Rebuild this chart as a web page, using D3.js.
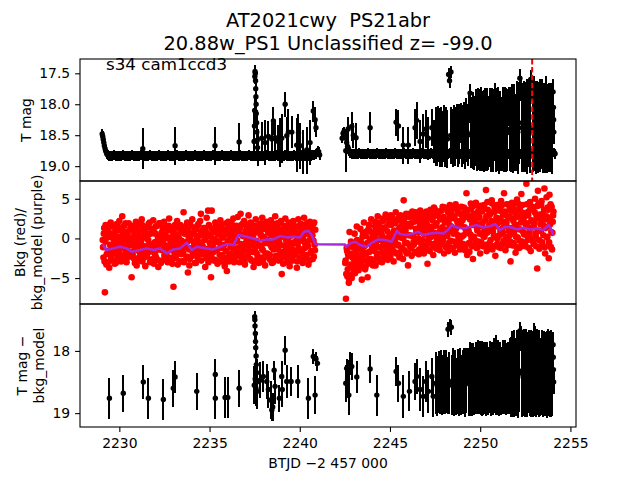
<!DOCTYPE html>
<html><head><meta charset="utf-8">
<script src="https://cdn.jsdelivr.net/npm/d3@7"></script>
<style>body{margin:0;background:#fff}svg text{font-family:"DejaVu Sans",sans-serif}</style>
</head><body><svg id="c" width="640" height="480"></svg>
<script>
// ---------------- DATA ----------------
const titleLines = ["AT2021cwy  PS21abr", "20.88w_PS1 Unclassified z= -99.0"];
const sectorLabel = "s34 cam1ccd3";
const xLabel = "BTJD \u22122 457 000";
const topYLabel = ["T mag"];
const midYLabel = ["Bkg (red)/", "bkg_model (purple)"];
const botYLabel = ["T mag \u2212", "bkg_model"];
const xTicks = [2230, 2235, 2240, 2245, 2250, 2255];
const topTicks = [17.5, 18.0, 18.5, 19.0];
const midTicks = [5, 0, -5];
const botTicks = [18, 19];
const triggerTime = 2252.88;
const baselineErr = 0.08;

// non-detection baseline in the top panel [BTJD, mag]
const baseline1 = [[2229.05,18.48],[2229.08,18.52],[2229.11,18.57],[2229.14,18.62],[2229.17,18.67],[2229.21,18.72],[2229.25,18.76],[2229.30,18.80],[2229.35,18.82],
[2229.4,18.83],[2229.5,18.84],[2229.6,18.83],[2229.7,18.82],[2229.8,18.83],[2229.9,18.84],[2230.0,18.83],[2230.1,18.83],[2230.2,18.82],[2230.3,18.83],
[2230.4,18.84],[2230.5,18.83],[2230.6,18.83],[2230.7,18.82],[2230.8,18.83],[2230.9,18.84],[2231.0,18.83],[2231.1,18.83],[2231.2,18.82],[2231.3,18.83],
[2231.4,18.84],[2231.5,18.83],[2231.6,18.83],[2231.7,18.82],[2231.8,18.83],[2231.9,18.84],[2232.0,18.83],[2232.1,18.83],[2232.2,18.82],[2232.3,18.83],
[2232.4,18.84],[2232.5,18.83],[2232.6,18.83],[2232.7,18.82],[2232.8,18.83],[2232.9,18.84],[2233.0,18.83],[2233.1,18.83],[2233.2,18.82],[2233.3,18.83],
[2233.4,18.84],[2233.5,18.83],[2233.6,18.83],[2233.7,18.82],[2233.8,18.83],[2233.9,18.84],[2234.0,18.83],[2234.1,18.83],[2234.2,18.82],[2234.3,18.83],
[2234.4,18.84],[2234.5,18.83],[2234.6,18.83],[2234.7,18.82],[2234.8,18.83],[2234.9,18.84],[2235.0,18.83],[2235.1,18.83],[2235.2,18.82],[2235.3,18.83],
[2235.4,18.84],[2235.5,18.83],[2235.6,18.83],[2235.7,18.82],[2235.8,18.83],[2235.9,18.84],[2236.0,18.83],[2236.1,18.83],[2236.2,18.82],[2236.3,18.83],
[2236.4,18.84],[2236.5,18.83],[2236.6,18.83],[2236.7,18.82],[2236.8,18.83],[2236.9,18.84],[2237.0,18.83],[2237.1,18.83],[2237.2,18.82],[2237.3,18.83],
[2237.4,18.84],[2237.5,18.83],[2237.6,18.83],[2237.7,18.82],[2237.8,18.83],[2237.9,18.84],[2238.0,18.83],[2238.1,18.83],[2238.2,18.82],[2238.3,18.83],
[2238.4,18.84],[2238.5,18.83],[2238.6,18.83],[2238.7,18.82],[2238.8,18.83],[2238.9,18.84],[2239.0,18.83],[2239.1,18.83],[2239.2,18.82],[2239.3,18.83],
[2239.4,18.84],[2239.5,18.83],[2239.6,18.83],[2239.7,18.82],[2239.8,18.83],[2239.9,18.84],[2240.0,18.83],[2240.1,18.83],[2240.2,18.82],[2240.3,18.83],
[2240.4,18.84],[2240.5,18.83],[2240.6,18.83],[2240.7,18.82],[2240.8,18.82],[2240.9,18.80],[2240.95,18.78],[2241.00,18.75],[2241.05,18.77],[2241.10,18.82]];
const baseline2 = [[2242.35,18.55],[2242.40,18.47],[2242.45,18.44],[2242.50,18.48],[2242.55,18.55],[2242.60,18.62],[2242.65,18.68],[2242.70,18.72],[2242.75,18.76],[2242.80,18.79],[2242.9,18.80],
[2243.0,18.80],[2243.1,18.81],[2243.2,18.80],[2243.3,18.79],[2243.4,18.80],[2243.5,18.81],[2243.6,18.80],[2243.7,18.80],[2243.8,18.79],[2243.9,18.80],
[2244.0,18.81],[2244.1,18.80],[2244.2,18.80],[2244.3,18.79],[2244.4,18.80],[2244.5,18.81],[2244.6,18.80],[2244.7,18.80],[2244.8,18.79],[2244.9,18.80],
[2245.0,18.81],[2245.1,18.80],[2245.2,18.80],[2245.3,18.79],[2245.4,18.80],[2245.5,18.81],[2245.6,18.80],[2245.7,18.80],[2245.8,18.79],[2245.9,18.80],
[2246.0,18.81],[2246.1,18.80],[2246.2,18.80],[2246.3,18.79],[2246.4,18.80],[2246.5,18.81],[2246.6,18.80],[2246.7,18.80],[2246.8,18.79],[2246.9,18.80],
[2247.0,18.81],[2247.1,18.80],[2247.2,18.80],[2247.3,18.79],[2247.4,18.80],[2247.5,18.81],[2247.6,18.80],[2247.7,18.80],[2247.8,18.79],[2247.9,18.80],
[2248.0,18.81],[2248.1,18.80],[2248.2,18.80],[2248.3,18.79],[2248.4,18.80],[2248.5,18.81],[2248.6,18.80],[2248.7,18.80],[2248.8,18.79],[2248.9,18.80],
[2249.0,18.81],[2249.1,18.80],[2249.2,18.80],[2249.3,18.79],[2249.4,18.80],[2249.5,18.81],[2249.6,18.80],[2249.7,18.80],[2249.8,18.79],[2249.9,18.80],
[2250.0,18.81],[2250.1,18.80],[2250.2,18.80],[2250.3,18.79],[2250.4,18.80],[2250.5,18.81],[2250.6,18.80],[2250.7,18.80],[2250.8,18.79],[2250.9,18.80],
[2251.0,18.81],[2251.1,18.80],[2251.2,18.80],[2251.3,18.79],[2251.4,18.80],[2251.5,18.81],[2251.6,18.80],[2251.7,18.80],[2251.8,18.79],[2251.9,18.80],
[2252.0,18.81],[2252.1,18.80],[2252.2,18.80],[2252.3,18.79],[2252.4,18.80],[2252.5,18.81],[2252.6,18.80],[2252.7,18.80],[2252.8,18.79],[2252.9,18.80],
[2253.0,18.81],[2253.1,18.80],[2253.2,18.80],[2253.3,18.79],[2253.4,18.80],[2253.5,18.81],[2253.6,18.80],[2253.7,18.80],[2253.8,18.79],[2253.9,18.80],
[2254.0,18.80],[2254.1,18.78],[2254.15,18.80]];

// detections in the top panel [BTJD, mag, err]
const topDetections = [
[2231.30,18.72,0.33],[2233.09,18.67,0.31],[2235.30,18.67,0.31],[2236.64,18.61,0.30],
[2237.47,18.60,0.28],[2237.49,18.35,0.22],[2237.50,18.10,0.18],[2237.51,17.55,0.12],[2237.52,17.47,0.11],[2237.54,17.50,0.11],[2237.55,17.62,0.12],[2237.56,17.75,0.13],[2237.57,17.88,0.14],[2237.58,18.00,0.16],[2237.59,18.15,0.18],[2237.61,18.30,0.20],[2237.62,18.45,0.24],[2237.64,18.58,0.27],[2237.66,18.70,0.30],
[2237.89,18.55,0.27],[2238.08,18.62,0.36],[2238.26,18.52,0.25],[2238.45,18.56,0.26],[2238.54,18.27,0.22],[2238.63,18.54,0.28],[2238.81,18.60,0.26],[2238.91,18.62,0.40],[2239.00,18.55,0.40],[2239.19,18.00,0.20],[2239.28,18.51,0.30],[2239.37,18.45,0.37],[2239.56,18.45,0.26],[2239.83,18.66,0.43],[2239.93,18.46,0.30],[2240.02,18.67,0.37],[2240.20,18.77,0.35],[2240.39,18.74,0.38],[2240.57,18.62,0.36],[2240.75,18.11,0.17],[2240.85,18.25,0.20],[2240.90,18.38,0.15],
[2242.55,18.75,0.35],[2242.68,18.40,0.20],[2242.88,18.36,0.23],[2242.97,18.50,0.20],[2243.12,18.54,0.23],[2243.90,18.38,0.25],[2245.34,18.29,0.22],[2245.47,18.35,0.25],[2245.74,18.66,0.30],[2246.02,18.66,0.30],[2246.39,18.38,0.30],[2246.48,18.26,0.30],[2246.67,18.60,0.35],[2246.85,18.48,0.32],[2247.00,18.40,0.30],[2247.13,18.55,0.35],[2247.32,18.38,0.30],[2247.45,18.60,0.35],
[2247.55,18.52,0.47],[2247.62,18.55,0.45],[2247.68,18.48,0.45],[2247.75,18.54,0.48],[2247.82,18.50,0.46],[2247.90,18.56,0.45],[2247.97,18.47,0.46],[2248.05,18.53,0.48],[2248.12,18.50,0.45],[2248.18,18.56,0.47],[2248.25,17.52,0.10],[2248.30,17.62,0.12],[2248.38,17.48,0.10],[2248.40,18.50,0.46],[2248.48,18.55,0.47],[2248.55,18.46,0.45],[2248.62,18.52,0.48],[2248.70,18.44,0.45],[2248.78,18.55,0.46],[2248.85,18.48,0.48],[2248.92,18.30,0.32],[2249.00,18.52,0.50],[2249.08,18.46,0.50],[2249.15,18.55,0.50],[2249.22,18.42,0.52],[2249.30,18.50,0.50],[2249.38,18.05,0.25],[2249.44,17.82,0.15],[2249.50,18.48,0.55],[2249.56,18.44,0.55],
[2249.62,18.42,0.62],[2249.68,18.46,0.60],[2249.74,18.38,0.62],[2249.80,18.45,0.63],[2249.86,18.40,0.66],[2249.92,18.36,0.60],[2249.98,18.44,0.64],[2250.04,18.40,0.68],[2250.10,18.46,0.62],[2250.16,18.38,0.60],[2250.22,18.43,0.66],[2250.28,18.34,0.60],[2250.34,18.45,0.63],[2250.40,18.41,0.67],[2250.46,18.47,0.60],[2250.52,18.38,0.64],[2250.58,18.44,0.66],[2250.64,18.36,0.62],[2250.70,18.46,0.63],[2250.76,18.33,0.58],[2250.82,17.85,0.20],[2250.88,18.42,0.68],[2250.94,18.46,0.62],[2251.00,18.38,0.66],[2251.06,18.45,0.67],[2251.12,18.41,0.63],[2251.18,18.48,0.60],[2251.24,18.40,0.68],[2251.30,18.45,0.64],[2251.36,18.34,0.62],[2251.42,18.42,0.68],[2251.48,18.46,0.62],[2251.54,18.05,0.30],[2251.60,17.92,0.20],[2251.66,18.40,0.68],[2251.72,18.45,0.65],[2251.78,18.36,0.68],[2251.84,18.43,0.68],[2251.90,18.38,0.70],[2251.96,18.46,0.62],[2252.02,18.33,0.70],[2252.08,18.40,0.72],[2252.14,18.30,0.66],[2252.20,17.58,0.15],[2252.26,17.75,0.20],[2252.32,18.38,0.72],[2252.38,18.45,0.65],[2252.44,18.34,0.72],[2252.50,18.42,0.68],[2252.56,18.36,0.72],[2252.60,18.00,0.40],[2252.62,18.41,0.72],[2252.68,18.31,0.70],[2252.74,18.43,0.68],[2252.80,17.60,0.15],[2252.86,17.75,0.20],[2252.92,18.38,0.72],[2252.98,18.46,0.62],[2253.00,17.90,0.35],[2253.04,18.34,0.72],[2253.10,18.42,0.70],[2253.16,18.32,0.70],[2253.22,18.45,0.66],[2253.28,18.36,0.72],[2253.30,17.95,0.35],[2253.34,18.46,0.64],[2253.40,18.34,0.70],[2253.45,18.00,0.40],[2253.46,18.41,0.70],[2253.52,18.33,0.68],[2253.58,18.43,0.68],[2253.64,17.80,0.25],[2253.70,18.39,0.72],[2253.76,18.47,0.62],[2253.82,18.36,0.70],[2253.85,17.95,0.30],[2253.88,18.42,0.68],[2253.94,18.38,0.72],[2253.98,18.10,0.40],[2254.00,18.42,0.70],[2254.04,17.80,0.20],[2254.06,18.05,0.20],[2254.07,18.25,0.20],[2254.08,18.45,0.20]];

// background flux [BTJD, value] (red), two interleaved cadence sets
const bkgPointsA = [
[2229.08,-0.2],[2229.12,-2.4],[2229.16,1.3],[2229.20,-6.8],[2229.24,1.7],[2229.28,-3.3],[2229.32,0.3],[2229.36,-1.7],[2229.40,0.9],[2229.44,-3.7],
[2229.48,-0.8],[2229.52,2.0],[2229.56,-2.1],[2229.60,0.1],[2229.64,-2.8],[2229.68,0.6],[2229.72,-1.5],[2229.76,1.4],[2229.80,-3.1],[2229.84,-0.5],
[2229.88,1.1],[2229.92,-1.9],[2229.96,-1.0],[2230.00,2.2],[2230.04,-2.6],[2230.08,0.0],[2230.12,-2.3],[2230.16,2.8],[2230.20,0.4],[2230.24,-0.3],
[2230.28,1.6],[2230.32,-1.4],[2230.36,0.8],[2230.40,-3.0],[2230.44,-0.1],[2230.48,-1.8],[2230.52,1.9],[2230.56,-0.7],[2230.60,-2.2],[2230.64,1.2],
[2230.68,-4.9],[2230.72,-0.9],[2230.76,1.5],[2230.80,-2.5],[2230.84,0.5],[2230.88,-1.2],[2230.92,2.1],[2230.96,-3.4],[2231.00,-0.4],[2231.04,0.9],
[2231.08,-1.6],[2231.12,1.8],[2231.16,-2.0],[2231.20,-0.6],[2231.24,2.4],[2231.28,-2.9],[2231.32,0.2],[2231.36,-1.3],[2231.40,1.0],[2231.44,-3.5],
[2231.48,0.7],[2231.52,-2.2],[2231.56,1.4],[2231.60,-0.2],[2231.64,-1.7],[2231.68,2.0],[2231.72,-2.7],[2231.76,-0.8],[2231.80,1.1],[2231.84,-1.1],
[2231.88,2.3],[2231.92,-3.2],[2231.96,-0.5],[2232.00,0.6],[2232.04,-2.4],[2232.08,1.6],[2232.12,-1.0],[2232.16,-3.6],[2232.20,0.3],[2232.24,1.9],
[2232.28,-1.4],[2232.32,-0.1],[2232.36,-2.8],[2232.40,1.3],[2232.44,-0.7],[2232.48,2.1],[2232.52,-2.1],[2232.56,0.4],[2232.60,-1.9],[2232.64,1.5],
[2232.68,-3.0],[2232.72,0.0],[2232.76,2.5],[2232.80,-1.5],[2232.84,-0.4],[2232.88,1.0],[2232.92,-2.6],[2232.96,0.8],[2233.00,-6.1],[2233.04,-1.2],
[2233.08,1.7],[2233.12,-2.3],[2233.16,-0.9],[2233.20,2.2],[2233.24,-3.3],[2233.28,0.5],[2233.32,-1.6],[2233.36,1.2],[2233.40,-0.3],[2233.44,-2.0],
[2233.48,0.9],[2233.52,-2.9],[2233.56,3.3],[2233.60,-1.1],[2233.64,1.4],[2233.68,-0.6],[2233.72,-2.5],[2233.76,2.0],[2233.80,-4.3],[2233.84,0.2],
[2233.88,-3.4],[2233.92,1.8],[2233.96,-0.2],[2234.00,-1.4],[2234.04,2.4],[2234.08,-2.2],[2234.12,0.6],[2234.16,-0.8],[2234.20,1.1],[2234.24,-3.1],
[2234.28,-1.0],[2234.32,1.6],[2234.36,-2.7],[2234.40,0.3],[2234.44,-1.7],[2234.48,2.2],[2234.52,3.1],[2234.56,-0.5],[2234.60,-2.0],[2234.64,0.9],
[2234.68,-1.3],[2234.72,1.3],[2234.76,-3.6],[2234.80,0.1],[2234.84,2.6],[2234.88,-2.4],[2234.92,3.5],[2234.96,1.7],[2235.00,-1.9],[2235.04,0.4],
[2235.08,-4.9],[2235.12,3.5],[2235.16,-0.9],[2235.20,1.0],[2235.24,-2.8],[2235.28,-0.1],[2235.32,2.0],[2235.36,-1.5],[2235.40,0.7],[2235.44,-3.2],
[2235.48,1.5],[2235.52,-0.4],[2235.56,-2.1],[2235.60,2.3],[2235.64,-1.2],[2235.68,0.2],[2235.72,-2.6],[2235.76,1.1],[2235.80,-0.8],[2235.84,-3.5],
[2235.88,0.8],[2235.92,1.9],[2235.96,-4.1],[2236.00,-0.3],[2236.04,2.1],[2236.08,-2.9],[2236.12,0.5],[2236.16,-1.1],[2236.20,1.4],[2236.24,-2.3],
[2236.28,-0.6],[2236.32,2.5],[2236.36,-3.0],[2236.40,0.0],[2236.44,-1.8],[2236.48,1.2],[2236.52,-0.2],[2236.56,2.7],[2236.60,-2.0],[2236.64,0.6],
[2236.68,-1.4],[2236.72,3.1],[2236.76,1.7],[2236.80,-2.5],[2236.84,0.3],[2236.88,-1.0],[2236.92,2.2],[2236.96,-3.3],[2237.00,0.9],[2237.04,-0.5],
[2237.08,1.3],[2237.12,-2.2],[2237.16,2.9],[2237.20,-1.6],[2237.24,0.1],[2237.28,2.0],[2237.32,-2.8],[2237.36,-0.7],[2237.40,1.5],[2237.44,-3.6],
[2237.48,0.7],[2237.52,-1.2],[2237.56,2.4],[2237.60,-0.3],[2237.64,-2.0],[2237.68,1.0],[2237.72,-3.1],[2237.76,1.8],[2237.80,-0.9],[2237.84,0.4],
[2237.88,-2.4],[2237.92,2.6],[2237.96,-1.5],[2238.00,0.2],[2238.04,1.4],[2238.08,-3.4],[2238.12,-0.1],[2238.16,2.1],[2238.20,-1.9],[2238.24,0.9],
[2238.28,-0.6],[2238.32,1.6],[2238.36,-2.7],[2238.40,2.3],[2238.44,-1.1],[2238.48,0.5],[2238.52,-3.0],[2238.56,1.2],[2238.60,-0.4],[2238.64,2.8],
[2238.68,-2.2],[2238.72,0.0],[2238.76,1.9],[2238.80,-1.4],[2238.84,-0.8],[2238.88,0.8],[2238.92,-2.6],[2238.96,2.2],[2239.00,-4.5],[2239.04,1.1],
[2239.08,-3.2],[2239.12,0.6],[2239.16,-1.7],[2239.20,2.5],[2239.24,-0.2],[2239.28,1.4],[2239.32,-2.3],[2239.36,-1.0],[2239.40,2.0],[2239.44,-3.5],
[2239.48,0.3],[2239.52,1.7],[2239.56,-1.3],[2239.60,-2.8],[2239.64,2.2],[2239.68,-0.5],[2239.72,0.9],[2239.76,-2.0],[2239.80,1.5],[2239.84,-3.7],
[2239.88,-0.7],[2239.92,2.4],[2239.96,-1.6],[2240.00,0.4],[2240.04,-2.5],[2240.08,1.8],[2240.12,-0.1],[2240.16,-3.1],[2240.20,1.0],[2240.24,2.6],
[2240.28,-1.2],[2240.32,0.7],[2240.36,-2.1],[2240.40,1.9],[2240.44,-0.4],[2240.48,-3.3],[2240.52,1.3],[2240.56,2.1],[2240.60,-1.8],[2240.64,0.1],
[2240.68,1.6],[2240.72,-2.6],[2240.76,-0.3],[2240.80,2.0],[2240.84,-1.5],
[2242.52,-3.1],[2242.56,-7.6],[2242.60,-1.2],[2242.64,-4.8],[2242.68,-2.0],[2242.72,-5.6],[2242.76,0.8],[2242.80,-3.6],[2242.84,-0.4],[2242.88,-5.0],
[2242.92,-2.4],[2242.96,-1.1],[2243.00,-4.2],[2243.04,0.6],[2243.08,-3.0],[2243.12,-1.7],[2243.16,1.5],[2243.20,-3.8],[2243.24,-0.6],[2243.28,-2.2],
[2243.32,-1.4],[2243.36,1.2],[2243.40,-3.3],[2243.44,-5.2],[2243.48,0.2],[2243.52,-2.1],[2243.56,2.0],[2243.60,-0.9],[2243.64,-3.6],[2243.68,-1.8],
[2243.72,0.9],[2243.76,-4.9],[2243.80,-2.6],[2243.84,1.7],[2243.88,-0.3],[2243.92,-3.0],[2243.96,2.4],[2244.00,-1.3],[2244.04,0.4],[2244.08,-2.8],
[2244.12,-0.8],[2244.16,2.1],[2244.20,-3.4],[2244.24,1.0],[2244.28,-1.9],[2244.32,2.8],[2244.36,-0.2],[2244.40,-2.5],[2244.44,1.5],[2244.48,-1.1],
[2244.52,0.6],[2244.56,-3.0],[2244.60,2.5],[2244.64,-0.7],[2244.68,1.3],[2244.72,-2.2],[2244.76,3.0],[2244.80,-1.5],[2244.84,0.0],[2244.88,-2.7],
[2244.92,1.8],[2244.96,-0.5],[2245.00,-2.0],[2245.04,2.9],[2245.08,0.3],[2245.12,-1.2],[2245.16,2.2],[2245.20,-2.9],[2245.24,1.0],[2245.28,-0.3],
[2245.32,3.3],[2245.36,-1.8],[2245.40,0.7],[2245.44,-0.9],[2245.48,2.6],[2245.52,-2.4],[2245.56,1.4],[2245.60,0.1],[2245.64,-1.4],[2245.68,2.0],
[2245.72,-2.6],[2245.76,4.8],[2245.80,0.9],[2245.84,-0.6],[2245.88,2.8],[2245.92,-1.9],[2245.96,1.6],[2246.00,-3.4],[2246.04,0.4],[2246.08,3.1],
[2246.12,-1.0],[2246.16,1.9],[2246.20,-2.2],[2246.24,3.4],[2246.28,0.2],[2246.32,-0.8],[2246.36,2.4],[2246.40,-1.7],[2246.44,1.2],[2246.48,3.0],
[2246.52,-0.4],[2246.56,2.2],[2246.60,-2.0],[2246.64,0.8],[2246.68,3.5],[2246.72,-1.3],[2246.76,1.5],[2246.80,-0.2],[2246.84,2.7],[2246.88,-1.9],
[2246.92,0.5],[2246.96,3.2],[2247.00,-1.1],[2247.04,1.8],[2247.08,-3.2],[2247.12,2.5],[2247.16,0.0],[2247.20,-1.6],[2247.24,3.6],[2247.28,1.0],
[2247.32,-0.7],[2247.36,2.3],[2247.40,-2.1],[2247.44,3.9],[2247.48,0.7],[2247.52,1.6],[2247.56,-1.3],[2247.60,2.9],[2247.64,-0.2],[2247.68,0.4],
[2247.72,3.4],[2247.76,-1.5],[2247.80,1.2],[2247.84,2.6],[2247.88,-0.5],[2247.92,4.0],[2247.96,0.3],[2248.00,-1.9],[2248.04,2.0],[2248.08,1.1],
[2248.12,-0.9],[2248.16,3.7],[2248.20,0.8],[2248.24,-1.6],[2248.28,2.4],[2248.32,4.2],[2248.36,-0.3],[2248.40,1.5],[2248.44,3.0],[2248.48,-1.2],
[2248.52,0.6],[2248.56,2.8],[2248.60,-1.8],[2248.64,4.3],[2248.68,1.3],[2248.72,-0.6],[2248.76,3.5],[2248.80,0.1],[2248.84,2.2],[2248.88,-1.4],
[2248.92,1.9],[2248.96,4.0],[2249.00,-0.9],[2249.04,2.6],[2249.08,0.4],[2249.12,3.3],[2249.16,-1.5],[2249.20,1.1],[2249.24,5.7],[2249.28,-2.1],
[2249.32,3.6],[2249.36,0.8],[2249.40,-1.7],[2249.44,2.4],[2249.48,4.4],[2249.52,0.0],[2249.56,1.7],[2249.60,-2.6],[2249.64,3.1],[2249.68,-0.8],
[2249.72,2.0],[2249.76,4.5],[2249.80,-1.2],[2249.84,1.0],[2249.88,3.4],[2249.92,-0.4],[2249.96,2.7],[2250.00,-1.9],[2250.04,4.1],[2250.08,0.6],
[2250.12,1.5],[2250.16,-1.0],[2250.20,3.8],[2250.24,0.2],[2250.28,2.3],[2250.32,6.1],[2250.36,-1.6],[2250.40,4.6],[2250.44,0.9],[2250.48,2.9],
[2250.52,-0.6],[2250.56,3.3],[2250.60,1.2],[2250.64,4.8],[2250.68,-1.4],[2250.72,2.0],[2250.76,0.4],[2250.80,3.9],[2250.84,-2.2],[2250.88,1.6],
[2250.92,4.2],[2250.96,0.0],[2251.00,2.5],[2251.04,-1.1],[2251.08,3.5],[2251.12,1.0],[2251.16,4.7],[2251.20,-0.7],[2251.24,2.1],[2251.28,0.6],
[2251.32,5.7],[2251.36,3.0],[2251.40,-1.5],[2251.44,1.8],[2251.48,4.3],[2251.52,-0.3],[2251.56,2.6],[2251.60,0.3],[2251.64,3.7],[2251.68,-2.9],
[2251.72,1.3],[2251.76,4.5],[2251.80,-0.9],[2251.84,2.2],[2251.88,0.8],[2251.92,3.6],[2251.96,-1.8],[2252.00,1.7],[2252.04,4.9],[2252.08,0.1],
[2252.12,2.8],[2252.16,-1.2],[2252.20,3.9],[2252.24,1.1],[2252.28,5.6],[2252.32,-0.4],[2252.36,2.4],[2252.40,3.0],[2252.44,0.5],[2252.48,3.2],
[2252.52,-1.0],[2252.56,6.9],[2252.60,1.9],[2252.64,-0.2],[2252.68,3.4],[2252.72,0.7],[2252.76,4.6],[2252.80,-1.6],[2252.84,2.3],[2252.88,1.4],
[2252.92,3.8],[2252.96,-0.7],[2253.00,2.0],[2253.04,5.0],[2253.08,0.3],[2253.12,2.9],[2253.16,-3.8],[2253.20,6.0],[2253.24,4.4],[2253.28,-1.3],
[2253.32,2.6],[2253.36,0.9],[2253.40,4.7],[2253.44,-0.5],[2253.48,3.1],[2253.52,1.6],[2253.56,6.3],[2253.60,-1.9],[2253.64,2.4],[2253.68,5.2],
[2253.72,0.2],[2253.76,3.6],[2253.80,-2.5],[2253.84,5.5],[2253.88,1.8],[2253.92,-1.1],[2253.96,4.0],[2254.00,0.7],[2254.04,2.9]];
const bkgPointsB = [
[2229.10,-1.1],[2229.14,0.6],[2229.18,-2.9],[2229.22,-0.4],[2229.26,1.2],[2229.30,-2.0],[2229.34,0.1],[2229.38,-3.0],[2229.42,1.7],[2229.46,-1.5],
[2229.50,0.4],[2229.54,-2.6],[2229.58,-0.9],[2229.62,1.5],[2229.66,-1.9],[2229.70,-0.2],[2229.74,-3.2],[2229.78,0.9],[2229.82,-1.2],[2229.86,1.8],
[2229.90,-2.4],[2229.94,0.2],[2229.98,-1.6],[2230.02,1.0],[2230.06,-0.6],[2230.10,-2.9],[2230.14,1.4],[2230.18,-1.0],[2230.22,0.7],[2230.26,-2.1],
[2230.30,-0.3],[2230.34,1.9],[2230.38,-2.7],[2230.42,-1.3],[2230.46,0.5],[2230.50,-0.8],[2230.54,-2.3],[2230.58,1.1],[2230.62,-1.7],[2230.66,0.0],
[2230.70,1.6],[2230.74,-2.0],[2230.78,-0.5],[2230.82,0.8],[2230.86,-3.1],[2230.90,-1.4],[2230.94,1.3],[2230.98,-0.1],[2231.02,-2.5],[2231.06,0.4],
[2231.10,-0.9],[2231.14,1.0],[2231.18,-2.8],[2231.22,-0.2],[2231.26,1.7],[2231.30,-1.8],[2231.34,0.3],[2231.38,-2.4],[2231.42,-1.0],[2231.46,1.4],
[2231.50,-2.2],[2231.54,0.0],[2231.58,-1.3],[2231.62,1.8],[2231.66,-0.7],[2231.70,-3.0],[2231.74,0.6],[2231.78,-1.6],[2231.82,1.2],[2231.86,-2.6],
[2231.90,0.9],[2231.94,-1.1],[2231.98,-2.0],[2232.02,1.5],[2232.06,-0.4],[2232.10,-2.7],[2232.14,0.2],[2232.18,-1.4],[2232.22,1.9],[2232.26,-0.6],
[2232.30,-3.1],[2232.34,0.7],[2232.38,-1.5],[2232.42,-0.3],[2232.46,1.3],[2232.50,-2.2],[2232.54,0.4],[2232.58,-0.9],[2232.62,-2.8],[2232.66,1.0],
[2232.70,-1.2],[2232.74,1.6],[2232.78,-2.4],[2232.82,0.1],[2232.86,-0.8],[2232.90,1.2],[2232.94,-3.2],[2232.98,-0.1],[2233.02,0.8],[2233.06,-1.9],
[2233.10,0.5],[2233.14,-2.5],[2233.18,-0.6],[2233.22,1.4],[2233.26,-1.7],[2233.30,0.0],[2233.34,-2.9],[2233.38,1.7],[2233.42,-1.1],[2233.46,-0.3],
[2233.50,1.1],[2233.54,-1.8],[2233.58,-3.0],[2233.62,0.6],[2233.66,-0.9],[2233.70,1.6],[2233.74,-2.3],[2233.78,-0.4],[2233.82,0.9],[2233.86,-1.4],
[2233.90,-2.6],[2233.94,0.3],[2233.98,1.5],[2234.02,-1.2],[2234.06,-2.0],[2234.10,0.7],[2234.14,-0.5],[2234.18,-3.1],[2234.22,1.2],[2234.26,-1.6],
[2234.30,0.0],[2234.34,-2.2],[2234.38,1.8],[2234.42,-0.7],[2234.46,-1.5],[2234.50,0.9],[2234.54,-2.8],[2234.58,0.4],[2234.62,-1.0],[2234.66,1.3],
[2234.70,-1.9],[2234.74,-0.2],[2234.78,1.0],[2234.82,-2.5],[2234.86,0.6],[2234.90,-1.3],[2234.94,-3.0],[2234.98,1.6],[2235.02,-0.6],[2235.06,0.2],
[2235.10,-2.3],[2235.14,1.2],[2235.18,-0.8],[2235.22,-1.7],[2235.26,0.8],[2235.30,-2.7],[2235.34,1.5],[2235.38,-0.3],[2235.42,-1.4],[2235.46,0.5],
[2235.50,-0.5],[2235.54,-2.9],[2235.58,0.9],[2235.62,-1.1],[2235.66,1.7],[2235.70,-2.1],[2235.74,0.1],[2235.78,-0.9],[2235.82,-3.1],[2235.86,1.1],
[2235.90,-1.6],[2235.94,0.6],[2235.98,-2.4],[2236.02,1.4],[2236.06,-0.2],[2236.10,-1.9],[2236.14,0.8],[2236.18,-2.7],[2236.22,1.9],[2236.26,-1.0],
[2236.30,0.3],[2236.34,-1.4],[2236.38,-2.6],[2236.42,1.0],[2236.46,-0.4],[2236.50,1.6],[2236.54,-2.2],[2236.58,-1.2],[2236.62,0.6],[2236.66,-3.0],
[2236.70,1.3],[2236.74,-0.7],[2236.78,-2.0],[2236.82,0.5],[2236.86,1.9],[2236.90,-1.5],[2236.94,-2.9],[2236.98,0.2],[2237.02,-0.6],[2237.06,1.5],
[2237.10,-2.2],[2237.14,0.8],[2237.18,-1.0],[2237.22,1.8],[2237.26,-2.6],[2237.30,-0.1],[2237.34,1.1],[2237.38,-1.7],[2237.42,0.4],[2237.46,-2.9],
[2237.50,1.6],[2237.54,-0.4],[2237.58,-1.8],[2237.62,0.9],[2237.66,-2.4],[2237.70,1.4],[2237.74,-0.9],[2237.78,-3.0],[2237.82,0.6],[2237.86,1.9],
[2237.90,-1.3],[2237.94,0.1],[2237.98,-2.7],[2238.02,1.2],[2238.06,-0.6],[2238.10,-1.9],[2238.14,1.7],[2238.18,-0.2],[2238.22,-2.3],[2238.26,0.7],
[2238.30,1.5],[2238.34,-2.1],[2238.38,-0.8],[2238.42,0.4],[2238.46,-3.1],[2238.50,1.0],[2238.54,-1.4],[2238.58,1.8],[2238.62,-0.3],[2238.66,-2.5],
[2238.70,0.6],[2238.74,-1.1],[2238.78,1.3],[2238.82,-2.8],[2238.86,-0.5],[2238.90,1.9],[2238.94,-1.7],[2238.98,0.2],[2239.02,-2.2],[2239.06,1.0],
[2239.10,-0.9],[2239.14,1.6],[2239.18,-2.4],[2239.22,0.3],[2239.26,-1.3],[2239.30,-3.0],[2239.34,1.2],[2239.38,-0.4],[2239.42,0.8],[2239.46,-1.9],
[2239.50,1.4],[2239.54,-2.6],[2239.58,-0.7],[2239.62,1.9],[2239.66,-1.5],[2239.70,0.5],[2239.74,-2.1],[2239.78,1.1],[2239.82,-0.2],[2239.86,-2.9],
[2239.90,0.9],[2239.94,-1.2],[2239.98,1.6],[2240.02,-2.4],[2240.06,-0.3],[2240.10,1.2],[2240.14,-1.8],[2240.18,0.1],[2240.22,-2.7],[2240.26,1.7],
[2240.30,-0.6],[2240.34,1.5],[2240.38,-2.2],[2240.42,0.6],[2240.46,-1.0],[2240.50,1.9],[2240.54,-2.8],[2240.58,-0.1],[2240.62,1.0],[2240.66,-1.6],
[2240.70,0.4],[2240.74,1.8],[2240.78,-2.3],[2240.82,-0.8],[2240.86,1.1],
[2242.54,-2.8],[2242.58,-4.5],[2242.62,-1.6],[2242.66,-3.9],[2242.70,-2.2],[2242.74,-5.2],[2242.78,-1.0],[2242.82,-3.3],[2242.86,-4.6],[2242.90,-1.9],
[2242.94,-3.5],[2242.98,-0.8],[2243.02,-2.7],[2243.06,-4.4],[2243.10,-1.4],[2243.14,-3.1],[2243.18,-0.2],[2243.22,-2.3],[2243.26,-4.0],[2243.30,-1.2],
[2243.34,-2.6],[2243.38,-0.4],[2243.42,-3.5],[2243.46,-1.5],[2243.50,0.7],[2243.54,-2.8],[2243.58,-1.0],[2243.62,-3.9],[2243.66,0.3],[2243.70,-1.9],
[2243.74,-0.6],[2243.78,-3.2],[2243.82,1.2],[2243.86,-1.7],[2243.90,-0.1],[2243.94,-2.6],[2243.98,0.8],[2244.02,-1.2],[2244.06,-3.4],[2244.10,0.2],
[2244.14,-1.6],[2244.18,1.5],[2244.22,-0.5],[2244.26,-2.4],[2244.30,0.6],[2244.34,-1.1],[2244.38,2.0],[2244.42,-2.9],[2244.46,-0.2],[2244.50,1.1],
[2244.54,-1.8],[2244.58,0.3],[2244.62,2.2],[2244.66,-0.9],[2244.70,-2.5],[2244.74,1.4],[2244.78,-0.4],[2244.82,-1.5],[2244.86,0.9],[2244.90,2.5],
[2244.94,-1.1],[2244.98,0.5],[2245.02,-2.3],[2245.06,1.7],[2245.10,-0.2],[2245.14,2.6],[2245.18,-1.6],[2245.22,0.9],[2245.26,-0.7],[2245.30,1.9],
[2245.34,-1.9],[2245.38,0.2],[2245.42,2.3],[2245.46,-0.8],[2245.50,1.2],[2245.54,-2.1],[2245.58,2.9],[2245.62,0.6],[2245.66,-1.2],[2245.70,1.6],
[2245.74,0.0],[2245.78,2.4],[2245.82,-1.5],[2245.86,1.0],[2245.90,3.1],[2245.94,-0.6],[2245.98,1.8],[2246.02,-1.8],[2246.06,2.7],[2246.10,0.4],
[2246.14,1.5],[2246.18,-1.2],[2246.22,2.9],[2246.26,0.3],[2246.30,-0.5],[2246.34,2.1],[2246.38,-1.8],[2246.42,3.3],[2246.46,0.8],[2246.50,-0.1],
[2246.54,2.5],[2246.58,0.0],[2246.62,-1.4],[2246.66,1.7],[2246.70,3.0],[2246.74,-0.7],[2246.78,1.1],[2246.82,2.3],[2246.86,-1.6],[2246.90,0.6],
[2246.94,2.0],[2246.98,-0.9],[2247.02,3.4],[2247.06,1.2],[2247.10,-0.3],[2247.14,2.6],[2247.18,-1.5],[2247.22,0.9],[2247.26,3.1],[2247.30,0.2],
[2247.34,1.5],[2247.38,-1.0],[2247.42,2.8],[2247.46,0.4],[2247.50,3.6],[2247.54,-0.6],[2247.58,1.9],[2247.62,0.0],[2247.66,3.2],[2247.70,-1.3],
[2247.74,0.8],[2247.78,2.4],[2247.82,-0.8],[2247.86,3.5],[2247.90,1.4],[2247.94,-0.2],[2247.98,2.7],[2248.02,0.5],[2248.06,3.9],[2248.10,-1.1],
[2248.14,2.2],[2248.18,0.3],[2248.22,3.3],[2248.26,-0.6],[2248.30,1.7],[2248.34,2.9],[2248.38,-1.3],[2248.42,0.9],[2248.46,3.7],[2248.50,1.2],
[2248.54,-0.4],[2248.58,2.5],[2248.62,1.0],[2248.66,3.8],[2248.70,-0.9],[2248.74,2.0],[2248.78,0.4],[2248.82,3.2],[2248.86,-0.2],[2248.90,1.6],
[2248.94,3.0],[2248.98,0.2],[2249.02,2.3],[2249.06,-0.7],[2249.10,3.9],[2249.14,1.4],[2249.18,-1.2],[2249.22,2.7],[2249.26,0.7],[2249.30,3.5],
[2249.34,1.1],[2249.38,-0.6],[2249.42,2.8],[2249.46,0.5],[2249.50,3.7],[2249.54,-1.0],[2249.58,1.9],[2249.62,4.1],[2249.66,0.2],[2249.70,2.4],
[2249.74,-0.3],[2249.78,3.1],[2249.82,1.3],[2249.86,-1.1],[2249.90,2.6],[2249.94,4.0],[2249.98,0.6],[2250.02,1.8],[2250.06,-0.5],[2250.10,3.4],
[2250.14,2.0],[2250.18,0.3],[2250.22,4.2],[2250.26,1.1],[2250.30,-0.8],[2250.34,2.8],[2250.38,0.7],[2250.42,3.6],[2250.46,-1.3],[2250.50,1.7],
[2250.54,3.0],[2250.58,-0.2],[2250.62,2.2],[2250.66,4.4],[2250.70,0.9],[2250.74,-1.0],[2250.78,3.3],[2250.82,1.5],[2250.86,0.1],[2250.90,2.6],
[2250.94,-0.7],[2250.98,1.9],[2251.02,3.7],[2251.06,0.4],[2251.10,2.4],[2251.14,-1.2],[2251.18,4.1],[2251.22,1.2],[2251.26,2.9],[2251.30,-0.3],
[2251.34,1.6],[2251.38,3.4],[2251.42,0.0],[2251.46,2.1],[2251.50,-0.9],[2251.54,4.3],[2251.58,1.0],[2251.62,2.8],[2251.66,-0.4],[2251.70,3.5],
[2251.74,0.6],[2251.78,2.5],[2251.82,4.0],[2251.86,-0.6],[2251.90,1.5],[2251.94,3.2],[2251.98,0.2],[2252.02,-1.1],[2252.06,2.7],[2252.10,4.4],
[2252.14,1.2],[2252.18,-0.3],[2252.22,3.5],[2252.26,2.0],[2252.30,-1.0],[2252.34,4.2],[2252.38,0.8],[2252.42,2.6],[2252.46,-0.6],[2252.50,3.1],
[2252.54,1.7],[2252.58,4.3],[2252.62,0.3],[2252.66,2.9],[2252.70,-1.2],[2252.74,1.1],[2252.78,3.7],[2252.82,0.0],[2252.86,2.2],[2252.90,4.0],
[2252.94,-0.4],[2252.98,1.4],[2253.02,3.3],[2253.06,0.6],[2253.10,-1.0],[2253.14,2.5],[2253.18,4.1],[2253.22,1.0],[2253.26,-0.2],[2253.30,3.0],
[2253.34,1.8],[2253.38,4.2],[2253.42,-0.7],[2253.46,2.3],[2253.50,0.4],[2253.54,3.6],[2253.58,-1.1],[2253.62,1.3],[2253.66,2.8],[2253.70,0.1],
[2253.74,3.9],[2253.78,1.5],[2253.82,-0.5],[2253.86,2.6],[2253.90,4.3],[2253.94,0.8],[2253.98,-1.4],[2254.02,2.1],[2254.06,3.4]];
const bkgModel = [
[2229.08,-0.76],[2229.30,-1.47],[2229.67,-1.26],[2230.04,-1.06],[2230.41,-1.26],[2230.69,-1.69],[2231.15,-1.47],[2231.52,-1.26],[2231.88,-1.47],[2232.26,-1.26],[2232.63,-1.89],[2232.99,-1.39],[2233.36,-1.26],[2233.74,-0.55],[2234.01,-1.47],[2234.29,-1.06],[2234.84,-1.26],[2235.21,-1.39],[2235.58,-1.06],[2235.95,-0.72],[2236.32,-0.84],[2236.60,0.42],[2237.06,0.20],[2237.43,0.00],[2237.80,-0.30],[2238.17,-0.13],[2238.54,-0.13],[2238.91,0.29],[2239.28,0.13],[2239.65,0.20],[2240.02,0.13],[2240.24,0.83],[2240.48,0.96],[2240.66,0.42],[2240.85,-0.63],[2240.92,-0.72],
[2242.50,-0.76],[2242.57,-1.06],[2242.79,-0.63],[2243.07,-0.42],[2243.34,-0.84],[2243.71,-1.06],[2243.99,-0.55],[2244.36,-0.13],[2244.73,-0.21],[2245.10,-0.42],[2245.38,0.96],[2245.56,0.54],[2245.93,0.42],[2246.30,0.63],[2246.57,0.83],[2246.85,0.42],[2247.22,0.63],[2247.59,0.71],[2247.96,0.63],[2248.24,1.13],[2248.43,1.68],[2248.70,1.38],[2249.07,1.26],[2249.44,1.47],[2249.81,1.68],[2250.18,1.38],[2250.55,1.55],[2250.83,1.80],[2251.10,1.05],[2251.38,1.47],[2251.75,1.38],[2252.03,1.13],[2252.39,1.34],[2252.77,1.13],[2253.14,1.26],[2253.50,1.05],[2253.78,1.68],[2253.91,1.26],[2254.06,0.42]];

// T mag - bkg_model [BTJD, mag, err]
const botDetections = [
[2229.45,18.76,0.33],[2230.22,18.68,0.30],[2231.33,18.50,0.27],[2231.61,18.76,0.33],[2232.44,18.78,0.33],[2232.99,18.60,0.30],[2233.09,18.42,0.25],[2234.29,18.65,0.30],[2235.32,18.38,0.25],[2235.32,18.76,0.33],[2235.86,18.75,0.33],[2236.01,18.75,0.33],[2236.64,18.60,0.30],
[2237.48,18.55,0.30],[2237.50,17.45,0.09],[2237.51,17.50,0.09],[2237.52,17.60,0.10],[2237.53,18.45,0.25],[2237.54,17.72,0.11],[2237.55,17.85,0.12],[2237.56,17.95,0.14],[2237.57,18.60,0.28],[2237.58,18.08,0.16],[2237.59,18.22,0.18],[2237.61,18.35,0.22],[2237.62,18.50,0.25],[2237.64,18.65,0.28],
[2237.80,18.47,0.29],[2237.98,18.41,0.25],[2238.17,18.49,0.28],[2238.26,18.62,0.30],[2238.39,18.79,0.30],[2238.45,18.95,0.18],[2238.50,18.90,0.22],[2238.58,18.31,0.15],[2238.63,18.57,0.28],[2238.87,18.76,0.22],[2239.00,18.41,0.25],[2239.03,18.62,0.28],[2239.19,17.99,0.23],[2239.28,18.49,0.27],[2239.52,18.49,0.23],[2239.89,18.49,0.27],[2240.48,18.76,0.33],[2240.75,18.09,0.12],[2240.85,18.71,0.30],[2240.90,18.13,0.12],[2240.98,18.20,0.12],
[2242.55,18.52,0.30],[2242.60,18.28,0.15],[2242.65,18.45,0.30],[2242.72,18.71,0.32],[2242.80,18.20,0.18],[2242.88,18.25,0.21],[2243.16,18.42,0.25],[2243.90,18.29,0.22],[2244.27,18.71,0.33],[2245.34,18.33,0.23],[2245.47,18.52,0.30],[2245.74,18.73,0.35],[2246.08,18.65,0.32],[2246.39,18.49,0.30],[2246.48,18.41,0.28],[2246.67,18.62,0.35],[2246.85,18.73,0.33],[2247.00,18.49,0.33],[2247.13,18.65,0.35],[2247.32,18.41,0.30],[2247.40,18.73,0.33],
[2247.55,18.52,0.50],[2247.62,18.56,0.48],[2247.70,18.50,0.50],[2247.77,18.54,0.47],[2247.84,18.48,0.50],[2247.91,18.55,0.48],[2247.98,18.50,0.52],[2248.05,18.54,0.48],[2248.12,18.49,0.50],[2248.19,18.56,0.46],[2248.22,17.65,0.12],[2248.26,18.52,0.50],[2248.30,17.58,0.10],[2248.40,17.62,0.12],[2248.44,18.55,0.48],[2248.47,18.48,0.52],[2248.54,18.54,0.50],[2248.61,18.50,0.52],[2248.68,18.57,0.46],[2248.75,18.49,0.52],[2248.82,18.55,0.50],[2248.89,18.47,0.52],[2248.96,18.55,0.48],[2249.03,18.50,0.52],[2249.10,18.45,0.50],[2249.17,18.54,0.52],[2249.24,18.48,0.52],[2249.31,18.25,0.30],[2249.38,18.52,0.52],[2249.45,18.05,0.20],[2249.50,18.46,0.58],[2249.56,18.52,0.52],
[2249.62,18.45,0.57],[2249.68,18.48,0.55],[2249.74,18.43,0.58],[2249.80,18.47,0.55],[2249.86,18.42,0.60],[2249.92,18.46,0.56],[2249.98,18.42,0.58],[2250.04,18.47,0.56],[2250.10,18.44,0.60],[2250.16,18.48,0.55],[2250.22,18.44,0.58],[2250.28,18.40,0.55],[2250.34,18.46,0.58],[2250.40,18.43,0.57],[2250.46,18.48,0.55],[2250.52,18.42,0.58],[2250.58,18.46,0.58],[2250.64,18.41,0.56],[2250.70,18.47,0.56],[2250.76,18.40,0.60],[2250.82,18.30,0.50],[2250.85,17.95,0.20],[2250.88,18.45,0.58],[2250.94,18.48,0.55],[2251.00,18.42,0.60],[2251.06,18.46,0.58],[2251.12,18.43,0.57],[2251.18,18.48,0.55],[2251.24,18.42,0.60],[2251.30,18.46,0.56],[2251.36,18.40,0.58],[2251.42,18.45,0.58],[2251.48,18.47,0.55],[2251.54,18.42,0.56],[2251.60,18.44,0.58],[2251.66,18.40,0.60],[2251.72,18.42,0.65],
[2251.78,18.36,0.68],[2251.84,18.40,0.66],[2251.90,18.36,0.70],[2251.96,18.42,0.62],[2252.02,18.34,0.68],[2252.08,18.38,0.70],[2252.14,18.32,0.66],[2252.20,17.68,0.15],[2252.24,17.80,0.20],[2252.32,18.36,0.70],[2252.38,18.42,0.62],[2252.44,18.34,0.70],[2252.50,18.40,0.66],[2252.56,18.35,0.70],[2252.62,18.38,0.68],[2252.68,18.33,0.66],[2252.74,18.40,0.65],[2252.80,18.36,0.70],[2252.86,18.34,0.66],[2252.92,18.38,0.68],[2252.98,18.42,0.62],[2253.00,17.75,0.20],[2253.04,18.35,0.70],[2253.05,17.85,0.25],[2253.10,18.40,0.66],[2253.16,18.33,0.68],[2253.22,18.41,0.62],[2253.28,18.36,0.70],[2253.34,18.42,0.62],[2253.40,18.35,0.68],[2253.46,18.39,0.68],[2253.52,18.34,0.66],[2253.58,18.40,0.64],[2253.64,18.36,0.66],[2253.70,18.38,0.70],[2253.75,17.85,0.20],[2253.76,18.44,0.60],[2253.82,18.36,0.68],[2253.88,18.40,0.66],[2253.94,18.37,0.70],[2254.00,18.41,0.64],[2254.04,17.90,0.20],[2254.05,18.10,0.20],[2254.06,18.30,0.20],[2254.07,18.50,0.20]];

// ---------------- DRAWING ----------------
const svg = d3.select('#c');
const L = 80, R = 576;
const P = {top:[59,181], mid:[181,304], bot:[304,427]};
const FS = 13.9;
const x = d3.scaleLinear().domain([2227.82, 2255.31]).range([L, R]);
const yTop = d3.scaleLinear().domain([17.269, 19.24]).range([P.top[0], P.top[1]]);
const yMid = d3.scaleLinear().domain([-8.27, 7.24]).range([P.mid[1], P.mid[0]]);
const yBot = d3.scaleLinear().domain([17.246, 19.223]).range([P.bot[0], P.bot[1]]);

svg.append('rect').attr('width',640).attr('height',480).attr('fill','#fff');
const defs = svg.append('defs');
Object.entries(P).forEach(([k,[a,b]]) => {
  defs.append('clipPath').attr('id','clip-'+k).append('rect')
    .attr('x',L).attr('y',a).attr('width',R-L).attr('height',b-a);
});

function errSeries(g, data, y, r, color) {
  g.append('g').attr('shape-rendering','crispEdges').selectAll('line').data(data).join('line')
    .attr('x1', d => x(d[0])).attr('x2', d => x(d[0]))
    .attr('y1', d => y(d[1] - d[2])).attr('y2', d => y(d[1] + d[2]))
    .attr('stroke', color).attr('stroke-width', 2);
  g.append('g').selectAll('circle').data(data).join('circle')
    .attr('cx', d => x(d[0])).attr('cy', d => y(d[1])).attr('r', r).attr('fill', color);
}

// top panel
const gTop = svg.append('g').attr('clip-path','url(#clip-top)');
errSeries(gTop, baseline1.concat(baseline2).map(d => [d[0], d[1], baselineErr]), yTop, 2.7, '#000');
errSeries(gTop, topDetections, yTop, 2.7, '#000');
gTop.append('line').attr('x1', x(triggerTime)).attr('x2', x(triggerTime))
  .attr('y1', P.top[0]).attr('y2', P.top[1])
  .attr('stroke', '#ff0000').attr('stroke-width', 2).attr('stroke-dasharray', '5.5,2.4');

// middle panel
const gMid = svg.append('g').attr('clip-path','url(#clip-mid)');
gMid.append('g').selectAll('circle').data(bkgPointsA.concat(bkgPointsB)).join('circle')
  .attr('cx', d => x(d[0])).attr('cy', d => yMid(d[1])).attr('r', 3.3).attr('fill', '#ff0000');
gMid.append('path').datum(bkgModel)
  .attr('d', d3.line().x(d => x(d[0])).y(d => yMid(d[1])))
  .attr('fill','none').attr('stroke','#a82ad6').attr('stroke-width', 2.5).attr('stroke-linejoin','round');

// bottom panel
const gBot = svg.append('g').attr('clip-path','url(#clip-bot)');
errSeries(gBot, botDetections, yBot, 2.7, '#000');

// frames
Object.values(P).forEach(([a,b]) => {
  svg.append('rect').attr('x',L).attr('y',a).attr('width',R-L).attr('height',b-a)
    .attr('fill','none').attr('stroke','#000').attr('stroke-width',1.1);
});

function styleAxis(g) {
  g.select('.domain').remove();
  g.selectAll('.tick line').attr('stroke','#000').attr('stroke-width',1.1);
  g.selectAll('.tick text').attr('fill','#000').style('font-size', FS+'px').style('font-family','"DejaVu Sans",sans-serif');
}
styleAxis(svg.append('g').attr('transform',`translate(${L},0)`)
  .call(d3.axisLeft(yTop).tickValues(topTicks).tickFormat(d3.format('.1f')).tickSizeInner(4.9).tickSizeOuter(0).tickPadding(4.9)));
styleAxis(svg.append('g').attr('transform',`translate(${L},0)`)
  .call(d3.axisLeft(yMid).tickValues(midTicks).tickFormat(d3.format('d')).tickSizeInner(4.9).tickSizeOuter(0).tickPadding(4.9)));
styleAxis(svg.append('g').attr('transform',`translate(${L},0)`)
  .call(d3.axisLeft(yBot).tickValues(botTicks).tickFormat(d3.format('d')).tickSizeInner(4.9).tickSizeOuter(0).tickPadding(4.9)));
const xAx = svg.append('g').attr('transform',`translate(0,${P.bot[1]})`)
  .call(d3.axisBottom(x).tickValues(xTicks).tickFormat(d3.format('d')).tickSizeInner(4.9).tickSizeOuter(0).tickPadding(4.9));
styleAxis(xAx);
xAx.selectAll('.tick text').attr('dy','0.79em');

// texts
const T = svg.append('g').attr('fill','#000').style('font-family','"DejaVu Sans",sans-serif');
T.append('text').attr('x',328).attr('y',27.3).attr('text-anchor','middle').style('font-size','19.4px').style('white-space','pre').text(titleLines[0]);
T.append('text').attr('x',328).attr('y',49.5).attr('text-anchor','middle').style('font-size','19.4px').style('white-space','pre').text(titleLines[1]);
T.append('text').attr('x',106).attr('y',70.4).style('font-size','16.7px').text(sectorLabel);
T.append('text').attr('x',328).attr('y',468).attr('text-anchor','middle').style('font-size',FS+'px').text(xLabel);
function yLab(lines, xs, yc) {
  lines.forEach((s,i) => {
    T.append('text').attr('transform',`translate(${xs[i]},${yc}) rotate(-90)`)
      .attr('text-anchor','middle').style('font-size',FS+'px').text(s);
  });
}
yLab(topYLabel, [30.6], (P.top[0]+P.top[1])/2);
yLab(midYLabel, [24.8, 41.5], (P.mid[0]+P.mid[1])/2);
yLab(botYLabel, [27, 43.7], (P.bot[0]+P.bot[1])/2);
</script>
</body></html>
